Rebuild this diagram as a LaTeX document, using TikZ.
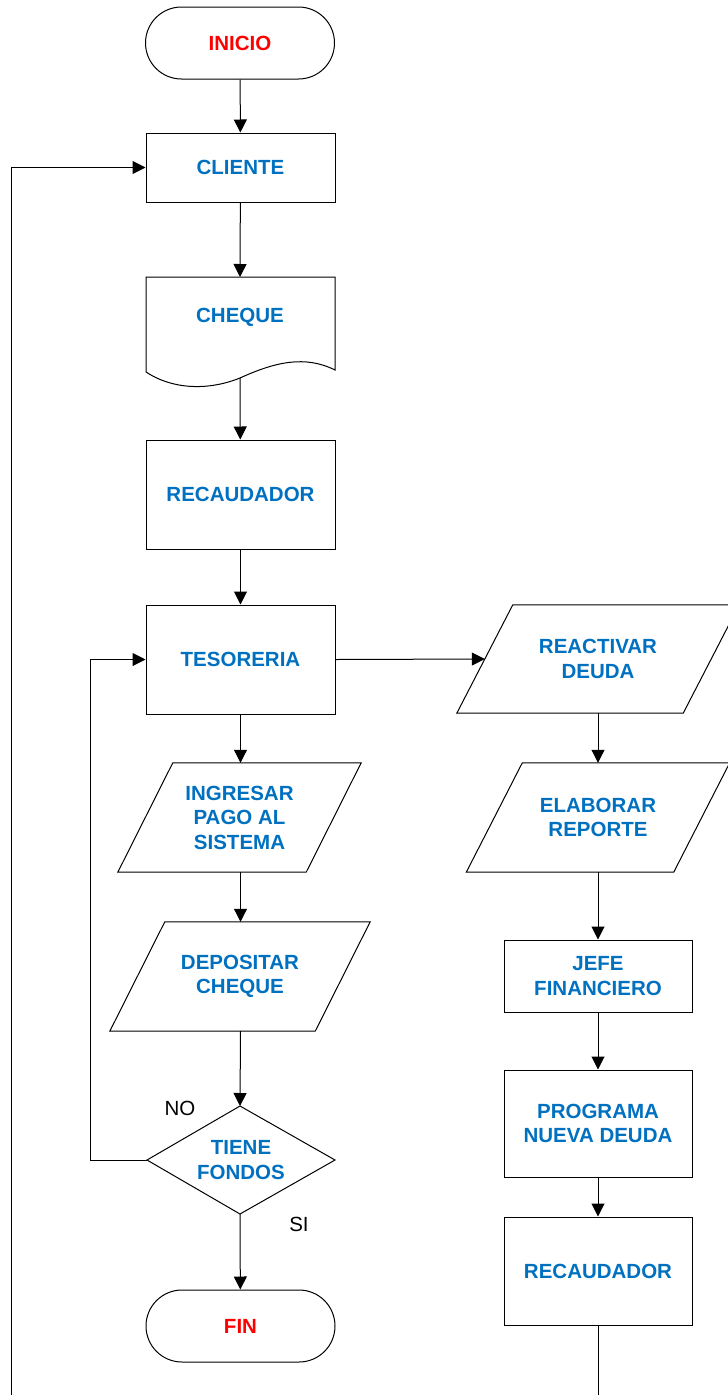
\documentclass[tikz,border=0pt]{standalone}
\usepackage{fontspec}
\setmainfont{Liberation Sans}
\usetikzlibrary{arrows.meta,calc}
\definecolor{txtblue}{RGB}{0,112,192}
\definecolor{txtred}{RGB}{255,0,0}
\begin{document}
\begin{tikzpicture}[x=1pt,y=-1pt,
  line/.style={draw=black,line width=1pt},
  arr/.style={line,-{Triangle[length=13pt,width=13pt]}},
  lbl/.style={font=\bfseries\fontsize{20.5}{24.5}\selectfont,align=center,text=txtblue},
  term/.style={line,rectangle,rounded corners=36pt,minimum width=189pt,minimum height=72pt,
    font=\bfseries\fontsize{20.5}{24.5}\selectfont,text=txtred,inner sep=0pt},
  proc/.style={line,rectangle,lbl,minimum width=189pt,inner sep=0pt},
  io/.style={rectangle,lbl,inner sep=0pt},
  note/.style={font=\fontsize{20.5}{24.5}\selectfont,text=black}]
\useasboundingbox (0,0) rectangle (728,1395);

% main column
\node[term] (inicio) at (240,43) {INICIO};
\node[proc,minimum height=69pt] (cliente) at (240.5,167.5) {CLIENTE};
\node[lbl] (cheque) at (240,317) {CHEQUE};
\node[proc,minimum height=109pt] (recaud) at (240.5,494.5) {RECAUDADOR};
\node[proc,minimum height=109pt] (teso) at (240.5,659.5) {TESORERIA};
\node[io,minimum width=188pt,minimum height=109pt] (ingr) at (239.5,817.5) {INGRESAR\\PAGO AL\\SISTEMA};
\node[io,minimum width=205pt,minimum height=109pt] (depo) at (240,976.5) {DEPOSITAR\\CHEQUE};
\node[lbl] (fondos) at (241,1160) {TIENE\\FONDOS};
\node[term] (fin) at (240.5,1326) {FIN};

% right column
\node[io,minimum width=226pt,minimum height=108pt] (react) at (598,659) {REACTIVAR\\DEUDA};
\node[io,minimum width=207pt,minimum height=109pt] (elab) at (598,817.5) {ELABORAR\\REPORTE};
\node[proc,minimum width=188pt,minimum height=72pt] (jefe) at (598,976) {JEFE\\FINANCIERO};
\node[proc,minimum width=188pt,minimum height=107pt] (prog) at (598,1123.5) {PROGRAMA\\NUEVA DEUDA};
\node[proc,minimum width=188pt,minimum height=108pt] (recaud2) at (598,1271) {RECAUDADOR};

% document outline with wavy bottom
\draw[line] (146,372) -- (146,277) -- (335,277) -- (335,370)
  .. controls (305,355) and (275,362) .. (240,378)
  .. controls (205,392) and (170,388) .. (146,372);
\coordinate (chqB) at (240,378);

% parallelogram outlines for the input/output steps
\foreach \n/\s in {ingr/27.5,depo/27.5,react/28,elab/28}
  \draw[line] ($(\n.north west)+(\s,0)$) -- ($(\n.north east)+(\s,0)$)
    -- ($(\n.south east)+(-\s,0)$) -- ($(\n.south west)+(-\s,0)$) -- cycle;

% decision diamond
\coordinate (dT) at (240,1106);
\coordinate (dB) at (240,1214);
\coordinate (dL) at (147,1160);
\coordinate (dR) at (335,1160);
\draw[line] (dT) -- (dR) -- (dB) -- (dL) -- cycle;

\node[note] (no) at (180,1108) {NO};
\node[note] (si) at (299,1224) {SI};

% connectors
\draw[arr] (inicio) -- (cliente);
\draw[arr] (cliente) -- (240,277);
\draw[arr] (chqB) -- (recaud);
\draw[arr] (recaud) -- (teso);
\draw[arr] (teso) -- (ingr.north -| teso);
\draw[arr] (ingr.south -| teso) -- (depo.north -| teso);
\draw[arr] (depo.south -| teso) -- (dT);
\draw[arr] (dB) -- (fin);
\draw[arr] (dL) -- (90,1160) |- (teso.west);
\draw[arr] (teso.east) -- (react.west);
\draw[arr] (react) -- (elab);
\draw[arr] (elab) -- (jefe);
\draw[arr] (jefe) -- (prog);
\draw[arr] (prog) -- (recaud2);
\coordinate (endR) at (598,1395);
\draw[line] (recaud2) -- (endR);
\coordinate (startL) at (11,1395);
\draw[arr] (startL) |- (cliente.west);
\end{tikzpicture}
\end{document}
